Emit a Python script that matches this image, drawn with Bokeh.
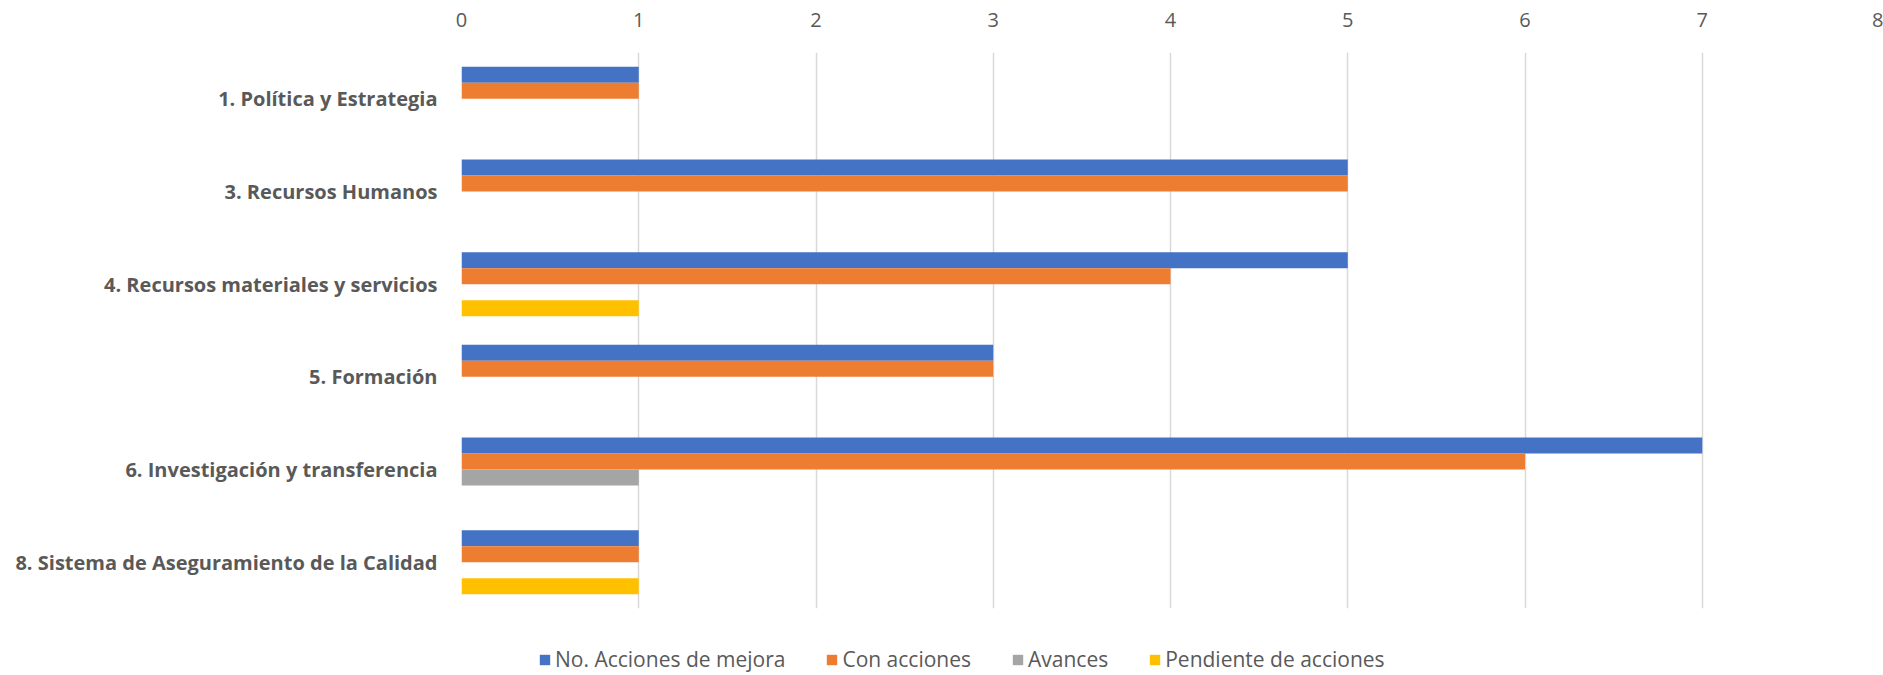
from bokeh.plotting import figure
from bokeh.layouts import column
from bokeh.models import ColumnDataSource, FactorRange, Range1d, Legend, LegendItem, SingleIntervalTicker
from bokeh.transform import dodge
from bokeh.embed import file_html
from bokeh.resources import INLINE

categories = [
    "1. Política y Estrategia",
    "3. Recursos Humanos",
    "4. Recursos materiales y servicios",
    "5. Formación",
    "6. Investigación y transferencia",
    "8. Sistema de Aseguramiento de la Calidad",
]
acciones_mejora = [1, 5, 5, 3, 7, 1]
con_acciones = [1, 5, 4, 3, 6, 1]
avances = [0, 0, 0, 0, 1, 0]
pendiente = [0, 0, 1, 0, 0, 1]

series_names = ["No. Acciones de mejora", "Con acciones", "Avances", "Pendiente de acciones"]
series_cols = ["a", "b", "c", "d"]
colors = ["#4472C4", "#ED7D31", "#A5A5A5", "#FFC000"]
bar_h = 0.1725
offsets = [1.5 * bar_h, 0.5 * bar_h, -0.5 * bar_h, -1.5 * bar_h]

src = ColumnDataSource(dict(cat=categories, a=acciones_mejora, b=con_acciones, c=avances, d=pendiente))

# main chart
p = figure(frame_width=1418, frame_height=556,
           y_range=FactorRange(*reversed(categories)),
           x_range=Range1d(0, 8),
           x_axis_location="above",
           output_backend="svg", toolbar_location=None,
           min_border_left=461, min_border_right=4,
           min_border_top=52, min_border_bottom=7)
p.y_range.range_padding = 0
p.y_range.factor_padding = 0

for col, c, off in zip(series_cols, colors, offsets):
    p.hbar(y=dodge("cat", off, range=p.y_range), left=0, right=col, height=bar_h,
           source=src, fill_color=c, line_color=None)

p.outline_line_color = None
p.background_fill_color = "white"
p.border_fill_color = "white"

p.xaxis.ticker = SingleIntervalTicker(interval=1)
p.xaxis.axis_line_color = None
p.xaxis.major_tick_line_color = None
p.xaxis.minor_tick_line_color = None
p.xaxis.major_label_text_font = "Open Sans"
p.xaxis.major_label_text_font_size = "20px"
p.xaxis.major_label_text_color = "#595959"
p.xaxis.major_label_standoff = 20

p.yaxis.axis_line_color = None
p.yaxis.major_tick_line_color = None
p.yaxis.minor_tick_line_color = None
p.yaxis.major_label_text_font = "Open Sans"
p.yaxis.major_label_text_font_style = "bold"
p.yaxis.major_label_text_font_size = "20px"
p.yaxis.major_label_text_color = "#595959"
p.yaxis.major_label_standoff = 18

p.xgrid.grid_line_color = "#D9D9D9"
p.xgrid.grid_line_width = 1.5
p.ygrid.grid_line_color = None

# legend strip (same series, renderers hidden, only the legend shows)
lg = figure(width=1883, height=60,
            y_range=FactorRange(*reversed(categories)),
            x_range=Range1d(0, 8),
            x_axis_type=None, y_axis_type=None,
            output_backend="svg", toolbar_location=None,
            min_border_left=0, min_border_right=0,
            min_border_top=0, min_border_bottom=0)
lg.outline_line_color = None
lg.xgrid.visible = False
lg.ygrid.visible = False
lg.background_fill_color = "white"
lg.border_fill_color = "white"

lrends = []
for col, c, off in zip(series_cols, colors, offsets):
    r = lg.hbar(y=dodge("cat", off, range=lg.y_range), left=0, right=col, height=bar_h,
                source=src, fill_color=c, line_color=None, visible=False)
    lrends.append(r)

legend = Legend(items=[LegendItem(label=n, renderers=[r]) for n, r in zip(series_names, lrends)],
                location=(77, 2), orientation="horizontal",
                padding=0, margin=0, spacing=40, label_standoff=4,
                glyph_width=13, glyph_height=13, label_height=20,
                border_line_color=None, background_fill_alpha=0,
                inactive_fill_alpha=0,
                label_text_font="Open Sans", label_text_font_size="21px",
                label_text_color="#595959")
lg.add_layout(legend)

layout = column(p, lg, spacing=0)
open("out.html", "w").write(file_html(layout, INLINE))
